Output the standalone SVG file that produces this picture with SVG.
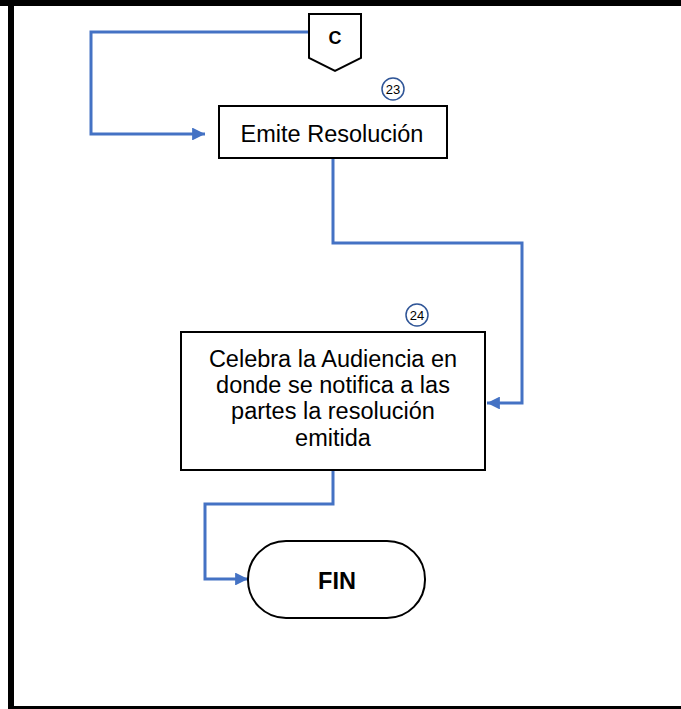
<svg xmlns="http://www.w3.org/2000/svg" width="681" height="709" viewBox="0 0 681 709">
<style>
.box{fill:#fff;stroke:#000;stroke-width:2}
.conn{fill:none;stroke:#4472C4;stroke-width:3}
.t{font-family:"Liberation Sans",Arial,sans-serif;fill:#000;text-anchor:middle}
.num{fill:#fff;stroke:#2F5597;stroke-width:1.5}
</style>
<defs>
<marker id="ah" viewBox="0 0 10 10" refX="10" refY="5" markerWidth="5" markerHeight="4.3" orient="auto" markerUnits="strokeWidth">
<path d="M0,0 L10,5 L0,10 Z" fill="#4472C4"/>
</marker>
</defs>
<rect width="681" height="709" fill="#fff"/>
<g id="frame">
<rect x="0" y="0" width="681" height="6" fill="#000"/>
<rect x="8" y="0" width="6" height="709" fill="#000"/>
<rect x="8" y="706" width="673" height="3" fill="#000"/>
</g>
<g id="connectors">
<path class="conn" d="M309,32 H91 V134 H205" marker-end="url(#ah)"/>
<path class="conn" d="M333,158 V243 H522 V403 H487" marker-end="url(#ah)"/>
<path class="conn" d="M333,471 V504 H205 V579 H248" marker-end="url(#ah)"/>
</g>
<g id="C">
<path class="box" d="M309,14 L361,14 L361,58 L335,71 L309,58 Z"/>
<text class="t" x="335" y="44" font-size="18" font-weight="bold">C</text>
</g>
<g id="n23">
<rect class="box" x="219" y="106" width="228" height="52"/>
<text class="t" x="332" y="142" font-size="23.5">Emite Resolución</text>
<circle class="num" cx="393" cy="89" r="11"/>
<text class="t" x="393" y="94" font-size="13">23</text>
</g>
<g id="n24">
<rect class="box" x="181" y="332" width="304" height="138"/>
<text class="t" font-size="23.5"><tspan x="333" y="367">Celebra la Audiencia en</tspan><tspan x="333" y="393">donde se notifica a las</tspan><tspan x="333" y="419">partes la resolución</tspan><tspan x="333" y="446">emitida</tspan></text>
<circle class="num" cx="417" cy="315" r="11"/>
<text class="t" x="417" y="320" font-size="13">24</text>
</g>
<g id="fin">
<rect class="box" x="248" y="541" width="177" height="77" rx="38" ry="38"/>
<text class="t" x="337" y="589" font-size="23.5" font-weight="bold">FIN</text>
</g>
</svg>
